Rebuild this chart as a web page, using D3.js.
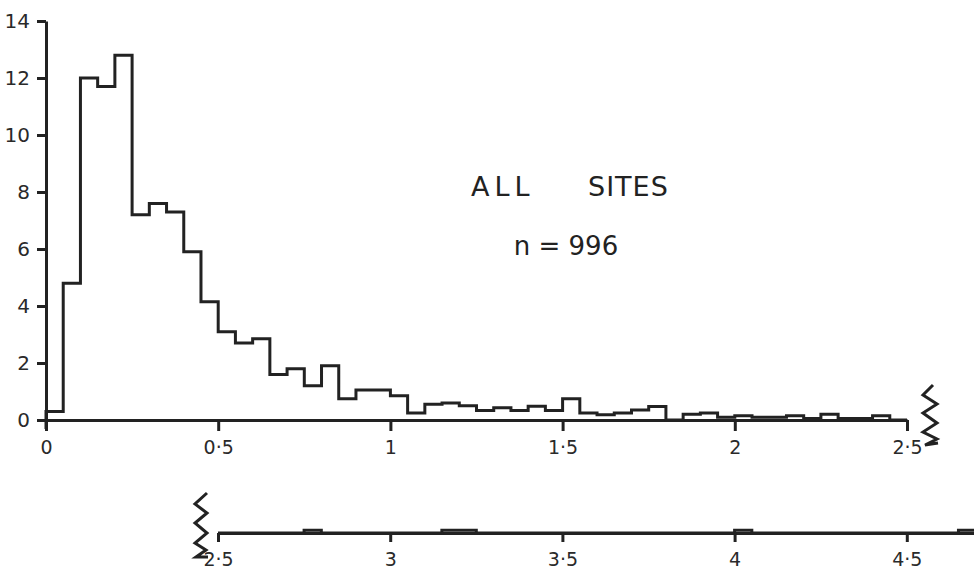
<!DOCTYPE html>
<html>
<head>
<meta charset="utf-8">
<script src="https://cdn.jsdelivr.net/npm/d3@7"></script>
<style>
  body { margin: 0; background: #fff; }
  svg { display: block; }
  .axis text { font-family: "DejaVu Sans", sans-serif; font-size: 19px; fill: #2a2a2a; }
  .y.axis text { font-size: 20px; }
  .axis path, .axis line { stroke: #222; stroke-width: 3; }
  .hist { fill: none; stroke: #222; stroke-width: 3; stroke-linejoin: miter; }
  .title { font-family: "DejaVu Sans", sans-serif; fill: #222; }
</style>
</head>
<body>
<svg width="974" height="570"></svg>
<script>
// percentage of sites per 0.05 class, 0 - 2.5
var binWidth = 0.05;
var upperValues = [0.3, 4.8, 12.0, 11.7, 12.8, 7.2, 7.6, 7.3, 5.9, 4.15,
                   3.1, 2.7, 2.85, 1.6, 1.8, 1.2, 1.9, 0.75, 1.05, 1.05,
                   0.85, 0.25, 0.55, 0.6, 0.5, 0.33, 0.43, 0.33, 0.48, 0.33,
                   0.75, 0.25, 0.18, 0.25, 0.35, 0.47, 0, 0.2, 0.25, 0.1,
                   0.15, 0.1, 0.1, 0.15, 0.05, 0.2, 0.05, 0.05, 0.15, 0];
// isolated classes beyond the break (class start, percentage)
var lowerStarts = [2.75, 3.15, 3.20, 4.00, 4.65];
var lowerValues = [0.1, 0.1, 0.1, 0.1, 0.1];

var yTicks = [0, 2, 4, 6, 8, 10, 12, 14];
var upperTicks = [0, 0.5, 1, 1.5, 2, 2.5];
var lowerTicks = [2.5, 3, 3.5, 4, 4.5];

var svg = d3.select("svg");

var x = d3.scaleLinear().domain([0, 2.5]).range([46, 907]);
var y = d3.scaleLinear().domain([0, 14]).range([420, 21]);
var xLow = d3.scaleLinear().domain([2.5, 5]).range([218, 1079]);
var yLow = d3.scaleLinear().domain([0, 14]).range([533, 134]);

var fmt = function(d) { return String(d).replace(".", "\u00b7"); };

// outline of the histogram (no dividers between classes)
function outline(starts, values, lo, hi) {
  var pts = [[lo, 0]], end = lo;
  starts.forEach(function(s, i) {
    if (s - end > 1e-9) pts.push([end, 0], [s, 0]);
    pts.push([s, values[i]], [s + binWidth, values[i]]);
    end = s + binWidth;
  });
  pts.push([end, 0], [hi, 0]);
  return pts;
}

var upperStarts = upperValues.map(function(d, i) { return i * binWidth; });

var lineUp = d3.line()
    .x(function(d) { return x(d[0]); })
    .y(function(d) { return y(d[1]); });
var lineLow = d3.line()
    .x(function(d) { return xLow(d[0]); })
    .y(function(d) { return yLow(d[1]); });

// axes
svg.append("g")
    .attr("class", "y axis")
    .attr("transform", "translate(46,0)")
    .call(d3.axisLeft(y).tickValues(yTicks).tickSize(9).tickSizeOuter(0).tickPadding(7)
      .tickFormat(function(d) { return d; }));

// y axis runs a little below the baseline
svg.append("line")
    .attr("x1", x(0)).attr("x2", x(0))
    .attr("y1", y(0)).attr("y2", y(0) + 9)
    .attr("stroke", "#222").attr("stroke-width", 3);

svg.append("g")
    .attr("class", "x axis")
    .attr("transform", "translate(0,420)")
    .call(d3.axisBottom(x).tickValues(upperTicks).tickSize(11).tickSizeOuter(0).tickPadding(10)
      .tickFormat(fmt));

svg.append("g")
    .attr("class", "x axis")
    .attr("transform", "translate(0,533)")
    .call(d3.axisBottom(xLow).tickValues(lowerTicks).tickSize(9).tickSizeOuter(0).tickPadding(11)
      .tickFormat(fmt));

// histograms
svg.append("path")
    .attr("class", "hist")
    .attr("d", lineUp(outline(upperStarts, upperValues, 0, 2.5)));

svg.append("path")
    .attr("class", "hist")
    .attr("d", lineLow(outline(lowerStarts, lowerValues, 2.5, 5)));

// axis break marks
var zig = d3.line();
svg.append("path")
    .attr("class", "hist")
    .attr("d", zig([[933,385],[923,395],[937,404],[923,413],[937,423],[923,432],[937,439],[925,445],[938,443]]));
svg.append("path")
    .attr("class", "hist")
    .attr("d", zig([[207,493],[195,504],[207,513],[195,523],[207,533],[195,543],[206,550],[196,557],[208,557]]));

// titles
svg.append("text").attr("class", "title")
    .attr("x", 471).attr("y", 196)
    .attr("font-size", 27).attr("letter-spacing", 5)
    .text("ALL");
svg.append("text").attr("class", "title")
    .attr("x", 588).attr("y", 196)
    .attr("font-size", 27).attr("letter-spacing", 1)
    .text("SITES");
svg.append("text").attr("class", "title")
    .attr("x", 566).attr("y", 255).attr("text-anchor", "middle")
    .attr("font-size", 26)
    .text("n = 996");
</script>
</body>
</html>
